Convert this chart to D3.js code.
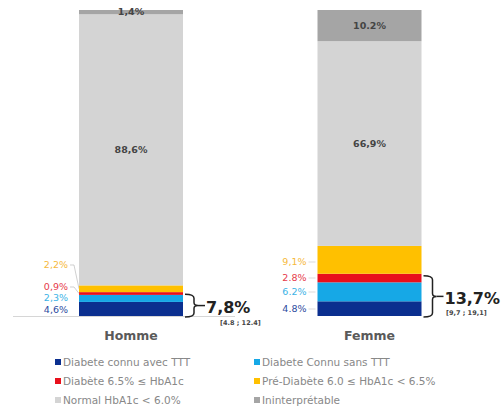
<!DOCTYPE html>
<html>
<head>
<meta charset="utf-8">
<script src="https://cdn.jsdelivr.net/npm/d3@7"></script>
<style>
  body { margin: 0; background: #fff; }
  svg { font-family: 'DejaVu Sans', 'Lato', sans-serif; }
</style>
</head>
<body>
<div id="chart"></div>
<script>
const categories = ["Homme", "Femme"];
const keys = ["connuTTT", "connuSans", "diab", "pre", "normal", "ininterp"];
const seriesNames = ["Diabete connu avec TTT", "Diabete Connu sans TTT", "Diabète 6.5% ≤ HbA1c",
    "Pré-Diabète 6.0 ≤ HbA1c < 6.5%", "Normal HbA1c < 6.0%", "Ininterprétable"];
const seriesColors = ["#0b2f8f", "#16a8e6", "#e8101c", "#ffc000", "#d4d4d4", "#a5a5a5"];
const hommeValues = [4.6, 2.3, 0.9, 2.2, 88.6, 1.4];
const femmeValues = [4.8, 6.2, 2.8, 9.1, 66.9, 10.2];
const hommeLabels = ["4,6%", "2,3%", "0,9%", "2,2%", "88,6%", "1,4%"];
const femmeLabels = ["4.8%", "6.2%", "2.8%", "9,1%", "66,9%", "10.2%"];
const totals = ["7,8%", "13,7%"];
const intervals = ["[4.8 ; 12.4]", "[9,7 ; 19,1]"];
const labelColors = ["#2c4a9e", "#3cb3e6", "#e63a4a", "#f6b93c"];

const width = 504, height = 410;
const svg = d3.select("#chart").append("svg").attr("width", width).attr("height", height);

const rows = categories.map((c, i) => {
    const vals = i === 0 ? hommeValues : femmeValues;
    const o = { cat: c };
    keys.forEach((k, j) => o[k] = vals[j]);
    return o;
});
const stacked = d3.stack().keys(keys)(rows);

const x = d3.scalePoint().domain(categories).range([131, 369.5]);
const barW = 104;
const y = d3.scaleLinear().domain([0, 100]).range([316, 10]);

// faint baseline
svg.append("line").attr("x1", 13).attr("x2", 235).attr("y1", y(0) + 0.5).attr("y2", y(0) + 0.5)
    .attr("stroke", "#d6d6d6").attr("stroke-width", 1);

const layer = svg.selectAll(".layer").data(stacked).join("g")
    .attr("fill", (d, i) => seriesColors[i]);
layer.selectAll("rect").data(d => d).join("rect")
    .attr("x", d => x(d.data.cat) - barW / 2)
    .attr("width", barW)
    .attr("y", d => y(d[1]))
    .attr("height", d => y(d[0]) - y(d[1]));

// labels inside bars (normal & ininterp)
const allLabels = [hommeLabels, femmeLabels];
categories.forEach((c, ci) => {
    [4, 5].forEach(k => {
        const s = stacked[k][ci];
        let yy = (y(s[0]) + y(s[1])) / 2;
        if (k === 5 && ci === 0) yy = y(s[1]) + 2;
        svg.append("text")
            .attr("x", x(c)).attr("y", yy).attr("dy", "0.35em")
            .attr("text-anchor", "middle")
            .attr("font-size", 9.5).attr("font-weight", 700).attr("fill", "#444")
            .text(allLabels[ci][k]);
    });
});

// side labels
const sideY = [[310, 298, 287, 265], [309, 292, 278, 262]];
categories.forEach((c, ci) => {
    const left = x(c) - barW / 2;
    [0, 1, 2, 3].forEach(k => {
        const ly = sideY[ci][k];
        svg.append("text")
            .attr("x", left - 11).attr("y", ly).attr("dy", "0.35em")
            .attr("text-anchor", "end")
            .attr("font-size", 9.5).attr("fill", labelColors[k])
            .text(allLabels[ci][k]);
        const s = stacked[k][ci];
        const mid = (y(s[0]) + y(s[1])) / 2;
        if (ci === 0 && k >= 2) {
            svg.append("path")
                .attr("d", `M${left - 9},${ly} L${left - 5},${ly} L${left},${mid}`)
                .attr("fill", "none").attr("stroke", "#bbb").attr("stroke-width", 0.7);
        }
        if (ci === 1) {
            svg.append("line").attr("x1", left - 9).attr("x2", left - 2)
                .attr("y1", ly).attr("y2", ly)
                .attr("stroke", "#ccc").attr("stroke-width", 0.7);
        }
    });
});

// braces with totals
const totalY = [307, 298];
const intervalY = [323, 313];
const intervalX = [220, 446];
categories.forEach((c, ci) => {
    const right = x(c) + barW / 2;
    const top = y(stacked[2][ci][1]) + 2;
    const bot = y(0) + 1;
    const mid = (top + bot) / 2;
    const bx = right + 2, bw = 9;
    svg.append("path")
        .attr("d", `M${bx},${top} Q${bx + bw},${top} ${bx + bw},${top + 4} L${bx + bw},${mid - 3} Q${bx + bw},${mid} ${bx + bw + 4},${mid} ` +
            `Q${bx + bw},${mid} ${bx + bw},${mid + 3} L${bx + bw},${bot - 4} Q${bx + bw},${bot} ${bx},${bot}`)
        .attr("fill", "none").attr("stroke", "#222").attr("stroke-width", 1.5);
    svg.append("line").attr("x1", bx + bw + 4).attr("x2", bx + bw + 11)
        .attr("y1", mid).attr("y2", mid).attr("stroke", "#222").attr("stroke-width", 1.5);
    svg.append("text")
        .attr("x", bx + bw + 12).attr("y", totalY[ci]).attr("dy", "0.35em")
        .attr("font-size", 16).attr("font-weight", 700).attr("fill", "#222")
        .text(totals[ci]);
    svg.append("text")
        .attr("x", intervalX[ci]).attr("y", intervalY[ci]).attr("dy", "0.35em")
        .attr("font-size", 6.5).attr("font-weight", 700).attr("fill", "#444")
        .text(intervals[ci]);
});

// category labels
svg.selectAll(".cat").data(categories).join("text")
    .attr("x", d => x(d)).attr("y", 336).attr("dy", "0.35em")
    .attr("text-anchor", "middle")
    .attr("font-size", 12.5).attr("font-weight", 700).attr("fill", "#5a5a5a")
    .text(d => d);

// legend
const legend = svg.append("g");
const item = legend.selectAll("g").data(seriesNames).join("g")
    .attr("transform", (d, i) => `translate(${i % 2 === 0 ? 55 : 254}, ${362 + Math.floor(i / 2) * 19})`);
item.append("rect").attr("x", 0).attr("y", -3).attr("width", 6).attr("height", 6)
    .attr("fill", (d, i) => seriesColors[i]);
item.append("text").attr("x", 8).attr("y", 0).attr("dy", "0.35em")
    .attr("font-size", 10.5).attr("fill", "#888")
    .text(d => d);
</script>
</body>
</html>
